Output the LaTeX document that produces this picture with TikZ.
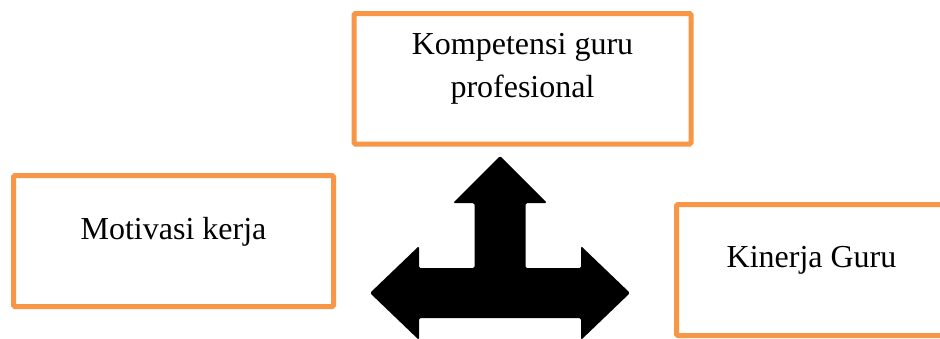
\documentclass[tikz,border=0pt]{standalone}
\usepackage{fontspec}
\setmainfont{Liberation Serif}
\definecolor{boxorange}{HTML}{F79646}
\begin{document}
\begin{tikzpicture}[x=1pt,y=-1pt,
  frame/.style={draw=boxorange, line width=5pt, rounded corners=1.5pt,
    rectangle, inner sep=0pt, outer sep=0pt, fill=white},
  caption/.style={font=\fontsize{32}{43}\selectfont, anchor=base, align=center,
    inner sep=0pt}]
\useasboundingbox (0,0) rectangle (940,338);
\clip (0,0) rectangle (940,338);

% three boxes
\node[frame, minimum width=337pt, minimum height=130.5pt] (komp) at (522.5,78.75) {};
\node[frame, minimum width=320pt, minimum height=131pt] (motiv) at (173.5,241) {};
\node[frame, minimum width=270pt, minimum height=131pt] (kiner) at (811.5,270) {};

% their captions (base anchor sits on the last line)
\node[caption] (kompText) at (522.5,97) {Kompetensi guru\\profesional};
\node[caption] (motivText) at (173.5,239) {Motivasi kerja};
\node[caption] (kinerText) at (811.5,267.5) {Kinerja Guru};

% three-way block arrow
\fill[black, rounded corners=1.5pt]
  (500,156) -- (547,203) -- (525.5,203) -- (525.5,268) -- (581,268) -- (581,246)
  -- (630,293) -- (581,340) -- (581,318) -- (419,318) -- (419,340) -- (370,293)
  -- (419,246) -- (419,268) -- (474.5,268) -- (474.5,203) -- (453,203) -- cycle;
\end{tikzpicture}
\end{document}
